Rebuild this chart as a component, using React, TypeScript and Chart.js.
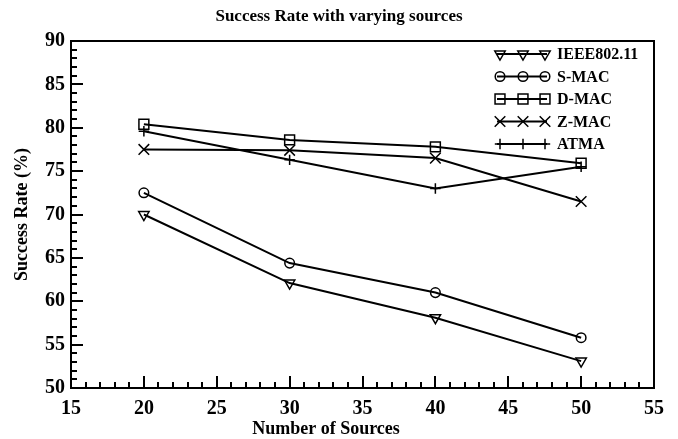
import React, { useEffect, useRef } from "react";
import { Chart, registerables } from "chart.js";
import { drawPoint } from "chart.js/helpers";

Chart.register(...registerables);

const sources = [20, 30, 40, 50];
const ieee80211 = [70, 62.1, 58.1, 53.1];
const smac = [72.5, 64.4, 61, 55.8];
const dmac = [80.4, 78.6, 77.8, 75.9];
const zmac = [77.5, 77.4, 76.5, 71.5];
const atma = [79.6, 76.3, 73, 75.5];
const seriesNames = ["IEEE802.11", "S-MAC", "D-MAC", "Z-MAC", "ATMA"];
const chartTitle = "Success Rate with varying sources";
const xTitle = "Number of Sources";
const yTitle = "Success Rate (%)";

const FONT = "'Liberation Serif', 'Times New Roman', serif";

const styles = [
  { pointStyle: "triangle", rotation: 180, radius: 6 },
  { pointStyle: "circle", rotation: 0, radius: 4.8 },
  { pointStyle: "rect", rotation: 0, radius: 7 },
  { pointStyle: "crossRot", rotation: 0, radius: 7.5 },
  { pointStyle: "cross", rotation: 0, radius: 5.2 },
];

const decorPlugin = {
  id: "decor",
  afterDraw(chart: any) {
    const ctx = chart.ctx;
    const { left, right, top, bottom } = chart.chartArea;
    const xs = chart.scales.x;
    const ys = chart.scales.y;
    ctx.save();
    ctx.strokeStyle = "#000";
    ctx.lineWidth = 2;
    ctx.strokeRect(left, top, right - left, bottom - top);
    ctx.beginPath();
    for (let v = 15; v <= 55; v++) {
      const px = Math.round(xs.getPixelForValue(v));
      const len = v % 5 === 0 ? 12 : 6;
      ctx.moveTo(px, bottom);
      ctx.lineTo(px, bottom - len);
    }
    for (let v = 50; v <= 90; v++) {
      const py = Math.round(ys.getPixelForValue(v));
      const len = v % 5 === 0 ? 12 : 6;
      ctx.moveTo(left, py);
      ctx.lineTo(left + len, py);
    }
    ctx.stroke();

    // titles
    ctx.fillStyle = "#000";
    ctx.textAlign = "center";
    ctx.textBaseline = "middle";
    ctx.font = `bold 17px ${FONT}`;
    ctx.fillText(chartTitle, 339, 17);
    ctx.font = `bold 18px ${FONT}`;
    ctx.fillText(xTitle, 326, 429);
    ctx.save();
    ctx.translate(22, (top + bottom) / 2);
    ctx.rotate(-Math.PI / 2);
    ctx.fillText(yTitle, 0, 0);
    ctx.restore();

    // legend
    const lx0 = right - 157;
    const lx1 = right - 107;
    const markers = [right - 154, right - 131, right - 109];
    ctx.font = `bold 16px ${FONT}`;
    ctx.textAlign = "left";
    seriesNames.forEach((name, i) => {
      const y = 54 + i * 22.5;
      ctx.lineWidth = 2;
      ctx.beginPath();
      ctx.moveTo(lx0, y);
      ctx.lineTo(lx1, y);
      ctx.stroke();
      markers.forEach((mx) => {
        ctx.fillStyle = "rgba(0,0,0,0)";
        ctx.lineWidth = 1.5;
        drawPoint(ctx, { pointStyle: styles[i].pointStyle, rotation: styles[i].rotation, radius: styles[i].radius, borderWidth: 1.5 }, mx, y);
      });
      ctx.fillStyle = "#000";
      ctx.fillText(name, right - 97, y + 1);
    });
    ctx.restore();
  },
};

export default function App() {
  const ref = useRef<HTMLCanvasElement>(null);
  useEffect(() => {
    document.body.style.margin = "0";
    const all = [ieee80211, smac, dmac, zmac, atma];
    const chart = new Chart(ref.current!, {
      type: "line",
      data: {
        datasets: all.map((arr, i) => ({
          label: seriesNames[i],
          data: arr.map((v, j) => ({ x: sources[j], y: v })),
          borderColor: "#000",
          borderWidth: 2,
          backgroundColor: "rgba(0,0,0,0)",
          pointStyle: styles[i].pointStyle as any,
          pointRotation: styles[i].rotation,
          pointRadius: styles[i].radius,
          pointBorderWidth: 1.5,
          pointBorderColor: "#000",
          pointBackgroundColor: "rgba(0,0,0,0)",
          tension: 0,
        })),
      },
      options: {
        animation: false,
        responsive: false,
        devicePixelRatio: 1,
        layout: { padding: { left: 0, top: 41, right: 24, bottom: 0 } },
        plugins: { legend: { display: false }, title: { display: false }, tooltip: { enabled: false } },
        scales: {
          x: {
            type: "linear",
            min: 15,
            max: 55,
            grid: { display: false, drawTicks: false },
            border: { display: false },
            ticks: { stepSize: 5, color: "#000", padding: 9, maxRotation: 0, font: { family: FONT, size: 20, weight: "bold" } },
            afterFit(s: any) { s.height = 51; },
          },
          y: {
            type: "linear",
            min: 50,
            max: 90,
            grid: { display: false, drawTicks: false },
            border: { display: false },
            ticks: { stepSize: 5, color: "#000", padding: 6, font: { family: FONT, size: 20, weight: "bold" } },
            afterFit(s: any) { s.width = 71; },
          },
        },
      },
      plugins: [decorPlugin],
    });
    return () => chart.destroy();
  }, []);
  return (
    <div style={{ width: 678, height: 439 }}>
      <canvas ref={ref} width={678} height={439} style={{ display: "block" }} />
    </div>
  );
}
